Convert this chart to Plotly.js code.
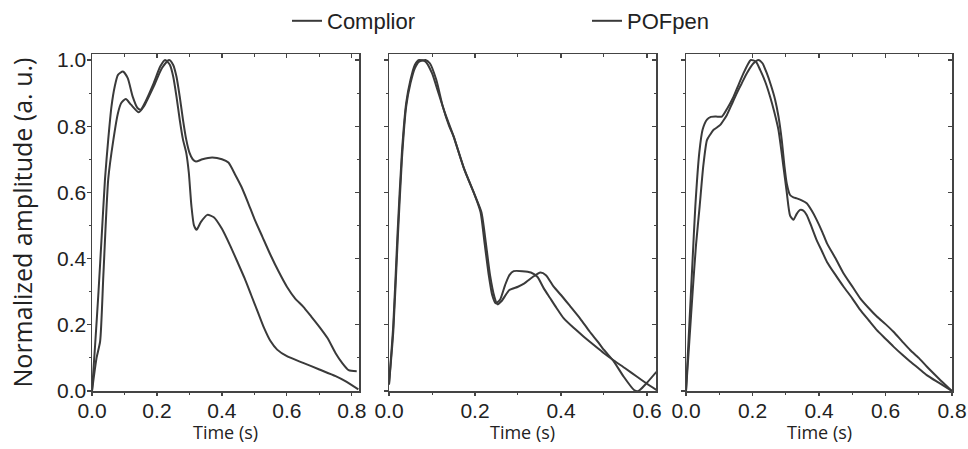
<!DOCTYPE html>
<html><head><meta charset="utf-8">
<script src="https://cdn.plot.ly/plotly-3.0.1.min.js"></script>
<style>html,body{margin:0;padding:0;background:#fff}#chart{width:968px;height:449px}</style>
</head><body><div id="chart"></div>
<script>
// ---------- data ----------
const seriesNames = ["Complior", "POFpen"];
const xTitle = "Time (s)";
const yTitle = "Normalized amplitude (a. u.)";
const xTickLabels = ["0.0", "0.2", "0.4", "0.6", "0.8"];
const yTickLabels = ["0.0", "0.2", "0.4", "0.6", "0.8", "1.0"];

// Panel 1
const p1_complior_t = [0,0.009,0.02,0.03,0.04,0.05,0.06,0.07,0.08,0.095,0.11,0.125,0.14,0.15,0.165,0.19,0.21,0.225,0.24,0.25,0.26,0.27,0.28,0.29,0.298,0.306,0.314,0.322,0.335,0.355,0.375,0.40,0.425,0.45,0.47,0.49,0.51,0.53,0.55,0.57,0.60,0.65,0.70,0.75,0.78,0.82];
const p1_complior_y = [0,0.13,0.30,0.47,0.64,0.76,0.86,0.92,0.955,0.965,0.945,0.89,0.855,0.85,0.875,0.93,0.98,1.0,0.985,0.95,0.89,0.82,0.76,0.72,0.66,0.56,0.50,0.487,0.51,0.532,0.525,0.49,0.44,0.385,0.34,0.29,0.24,0.19,0.15,0.125,0.105,0.085,0.065,0.045,0.03,0.005];
const p1_pofpen_t = [0,0.014,0.025,0.035,0.05,0.066,0.08,0.09,0.104,0.12,0.144,0.16,0.19,0.215,0.237,0.25,0.26,0.27,0.28,0.29,0.30,0.31,0.32,0.34,0.37,0.40,0.42,0.44,0.46,0.48,0.50,0.525,0.55,0.575,0.60,0.625,0.65,0.675,0.70,0.725,0.75,0.77,0.79,0.815];
const p1_pofpen_y = [0,0.10,0.15,0.35,0.64,0.76,0.84,0.87,0.882,0.865,0.842,0.86,0.92,0.975,1.0,0.985,0.95,0.89,0.82,0.76,0.72,0.70,0.693,0.70,0.705,0.70,0.69,0.655,0.617,0.57,0.52,0.465,0.41,0.36,0.315,0.28,0.255,0.225,0.194,0.16,0.114,0.085,0.063,0.06];

// Panel 2
const p2_complior_t = [0,0.01,0.02,0.03,0.04,0.05,0.06,0.07,0.085,0.10,0.115,0.13,0.15,0.175,0.20,0.213,0.222,0.232,0.24,0.248,0.258,0.27,0.28,0.29,0.31,0.33,0.345,0.36,0.375,0.39,0.406,0.43,0.453,0.48,0.50,0.523,0.55,0.577,0.60,0.622];
const p2_complior_y = [0.02,0.2,0.48,0.72,0.87,0.94,0.985,1.0,0.995,0.96,0.9,0.84,0.77,0.67,0.59,0.54,0.45,0.35,0.29,0.265,0.275,0.32,0.35,0.362,0.362,0.358,0.345,0.31,0.28,0.25,0.22,0.19,0.164,0.135,0.114,0.092,0.068,0.043,0.022,0.003];
const p2_pofpen_t = [0,0.01,0.02,0.03,0.04,0.05,0.06,0.07,0.085,0.095,0.11,0.125,0.14,0.15,0.175,0.20,0.215,0.225,0.235,0.245,0.252,0.262,0.28,0.30,0.315,0.335,0.352,0.365,0.383,0.40,0.422,0.445,0.467,0.485,0.50,0.523,0.546,0.57,0.58,0.60,0.622];
const p2_pofpen_y = [0.02,0.18,0.45,0.7,0.86,0.93,0.975,0.995,1.0,0.99,0.94,0.86,0.8,0.77,0.67,0.59,0.54,0.45,0.35,0.285,0.262,0.272,0.305,0.315,0.325,0.345,0.358,0.35,0.315,0.29,0.255,0.218,0.179,0.15,0.124,0.089,0.043,0.003,0.0,0.025,0.058];

// Panel 3
const p3_complior_t = [0,0.01,0.02,0.028,0.04,0.05,0.063,0.075,0.09,0.108,0.125,0.143,0.158,0.173,0.185,0.195,0.21,0.223,0.238,0.253,0.265,0.278,0.293,0.303,0.313,0.323,0.333,0.343,0.353,0.363,0.378,0.393,0.41,0.424,0.45,0.474,0.5,0.524,0.55,0.574,0.6,0.624,0.65,0.674,0.7,0.724,0.76,0.8];
const p3_complior_y = [0,0.2,0.4,0.557,0.72,0.79,0.82,0.828,0.829,0.829,0.855,0.889,0.925,0.96,0.985,1.0,0.995,0.97,0.935,0.889,0.845,0.789,0.678,0.6,0.53,0.517,0.535,0.547,0.545,0.532,0.495,0.456,0.42,0.39,0.35,0.315,0.28,0.245,0.213,0.184,0.158,0.134,0.11,0.089,0.068,0.048,0.025,0];
const p3_pofpen_t = [0,0.01,0.02,0.03,0.041,0.052,0.063,0.073,0.083,0.093,0.103,0.113,0.123,0.138,0.153,0.168,0.183,0.203,0.218,0.23,0.243,0.255,0.268,0.278,0.288,0.296,0.303,0.313,0.323,0.333,0.348,0.363,0.378,0.393,0.41,0.424,0.45,0.474,0.5,0.524,0.55,0.574,0.6,0.624,0.65,0.674,0.7,0.724,0.76,0.8];
const p3_pofpen_y = [0,0.15,0.3,0.44,0.557,0.68,0.758,0.775,0.789,0.796,0.804,0.818,0.834,0.867,0.9,0.93,0.96,0.99,1.0,0.99,0.96,0.925,0.88,0.83,0.758,0.68,0.627,0.592,0.585,0.582,0.576,0.567,0.545,0.517,0.48,0.446,0.4,0.355,0.316,0.28,0.25,0.225,0.202,0.179,0.15,0.124,0.1,0.074,0.038,0];

const panels = [
  {c:[p1_complior_t,p1_complior_y], p:[p1_pofpen_t,p1_pofpen_y], xr:[0,0.822], ticks:xTickLabels},
  {c:[p2_complior_t,p2_complior_y], p:[p2_pofpen_t,p2_pofpen_y], xr:[0,0.621], ticks:xTickLabels.slice(0,4)},
  {c:[p3_complior_t,p3_complior_y], p:[p3_pofpen_t,p3_pofpen_y], xr:[0,0.80], ticks:xTickLabels}
];

// ---------- styling ----------
const LINE = '#3a3a3a';
const AX = '#444';
const TXT = '#222';
const TICKFONT = 'Liberation Sans, Arial, sans-serif';
const xDom = [[92/968,359/968],[389/968,656/968],[686/968,952/968]];
const yDom = [58/449, 395/449];
const yRange = [0, 1.018];
const xMinor = [0.1,0.3,0.5,0.7];
const yMinor = [0.1,0.3,0.5,0.7,0.9];

const traces = [];
const annotations = [];
const layout = {
  width:968, height:449,
  margin:{l:0,r:0,t:0,b:0},
  paper_bgcolor:'#fff', plot_bgcolor:'#fff',
  font:{family:'Liberation Sans, Arial, sans-serif', color:TXT, size:20},
  showlegend:true,
  legend:{orientation:'h', x:287/968, xanchor:'left', y:1.0, yanchor:'top',
          font:{size:22, color:TXT}, entrywidth:255, entrywidthmode:'pixels',
          bgcolor:'rgba(0,0,0,0)', itemclick:false},
  annotations: annotations
};

function tickAxis(side, range, vals, minorVals, dir) {
  return {side:side, range:range, tickvals:vals, showticklabels:false,
    ticks:dir, ticklen:4, tickwidth:1.2, tickcolor:AX, showline:false, showgrid:false, zeroline:false,
    minor:{ticks:dir, ticklen:2.5, tickwidth:1, tickcolor:AX, tickvals:minorVals}};
}

panels.forEach((P, i) => {
  const n = i+1, oIn = i+4, oOut = i+7;
  const xa = 'x'+n, ya = 'y'+n;
  [[P.c, seriesNames[0]],[P.p, seriesNames[1]]].forEach(([d,name]) => {
    traces.push({x:d[0], y:d[1], xaxis:xa, yaxis:ya, type:'scatter', mode:'lines', name:name,
      line:{color:LINE, width:2, shape:'spline', smoothing:0.6}, showlegend:i===0});
  });
  // empty traces so the tick-only overlay axes exist
  traces.push({x:[], y:[], xaxis:'x'+oIn, yaxis:'y'+oIn, type:'scatter', mode:'lines', showlegend:false, hoverinfo:'skip'});
  traces.push({x:[], y:[], xaxis:'x'+oOut, yaxis:'y'+oOut, type:'scatter', mode:'lines', showlegend:false, hoverinfo:'skip'});

  const tv = P.ticks.map(Number);
  const yv = yTickLabels.map(Number);
  layout['xaxis'+n] = {domain:xDom[i], anchor:ya, range:P.xr, tickvals:tv, ticktext:P.ticks,
    showline:true, mirror:true, linecolor:AX, linewidth:1.5, ticks:'',
    showgrid:false, zeroline:false, tickfont:{family:TICKFONT, size:21, color:TXT}, ticklabelstandoff:0};
  layout['yaxis'+n] = {domain:yDom, anchor:xa, range:yRange, tickvals:yv, ticktext:yTickLabels,
    showticklabels:i===0,
    showline:true, mirror:true, linecolor:AX, linewidth:1.5, ticks:'',
    showgrid:false, zeroline:false, tickfont:{family:TICKFONT, size:21, color:TXT}, ticklabelstandoff:0,
    title: i===0 ? {text:yTitle, font:{family:'Open Sans, sans-serif', size:25, color:TXT}, standoff:17} : undefined};
  layout['xaxis'+oIn] = Object.assign(tickAxis('top',P.xr,tv,xMinor,'inside'), {overlaying:xa, anchor:'y'+oIn});
  layout['yaxis'+oIn] = Object.assign(tickAxis('right',yRange,yv,yMinor,'inside'), {overlaying:ya, anchor:'x'+oIn});
  layout['xaxis'+oOut] = Object.assign(tickAxis('bottom',P.xr,tv,xMinor,'outside'), {overlaying:xa, anchor:'y'+oOut});
  layout['yaxis'+oOut] = Object.assign(tickAxis('left',yRange,yv,yMinor,'outside'), {overlaying:ya, anchor:'x'+oOut});
  // x-axis title under each panel
  annotations.push({text:xTitle, xref:xa+' domain', x:0.5, xanchor:'center', yref:'paper', y:(449-432)/449, yanchor:'middle',
    showarrow:false, font:{family:'Open Sans, sans-serif', size:18, color:TXT}});
});

Plotly.newPlot('chart', traces, layout, {staticPlot:true, displayModeBar:false});
</script></body></html>
